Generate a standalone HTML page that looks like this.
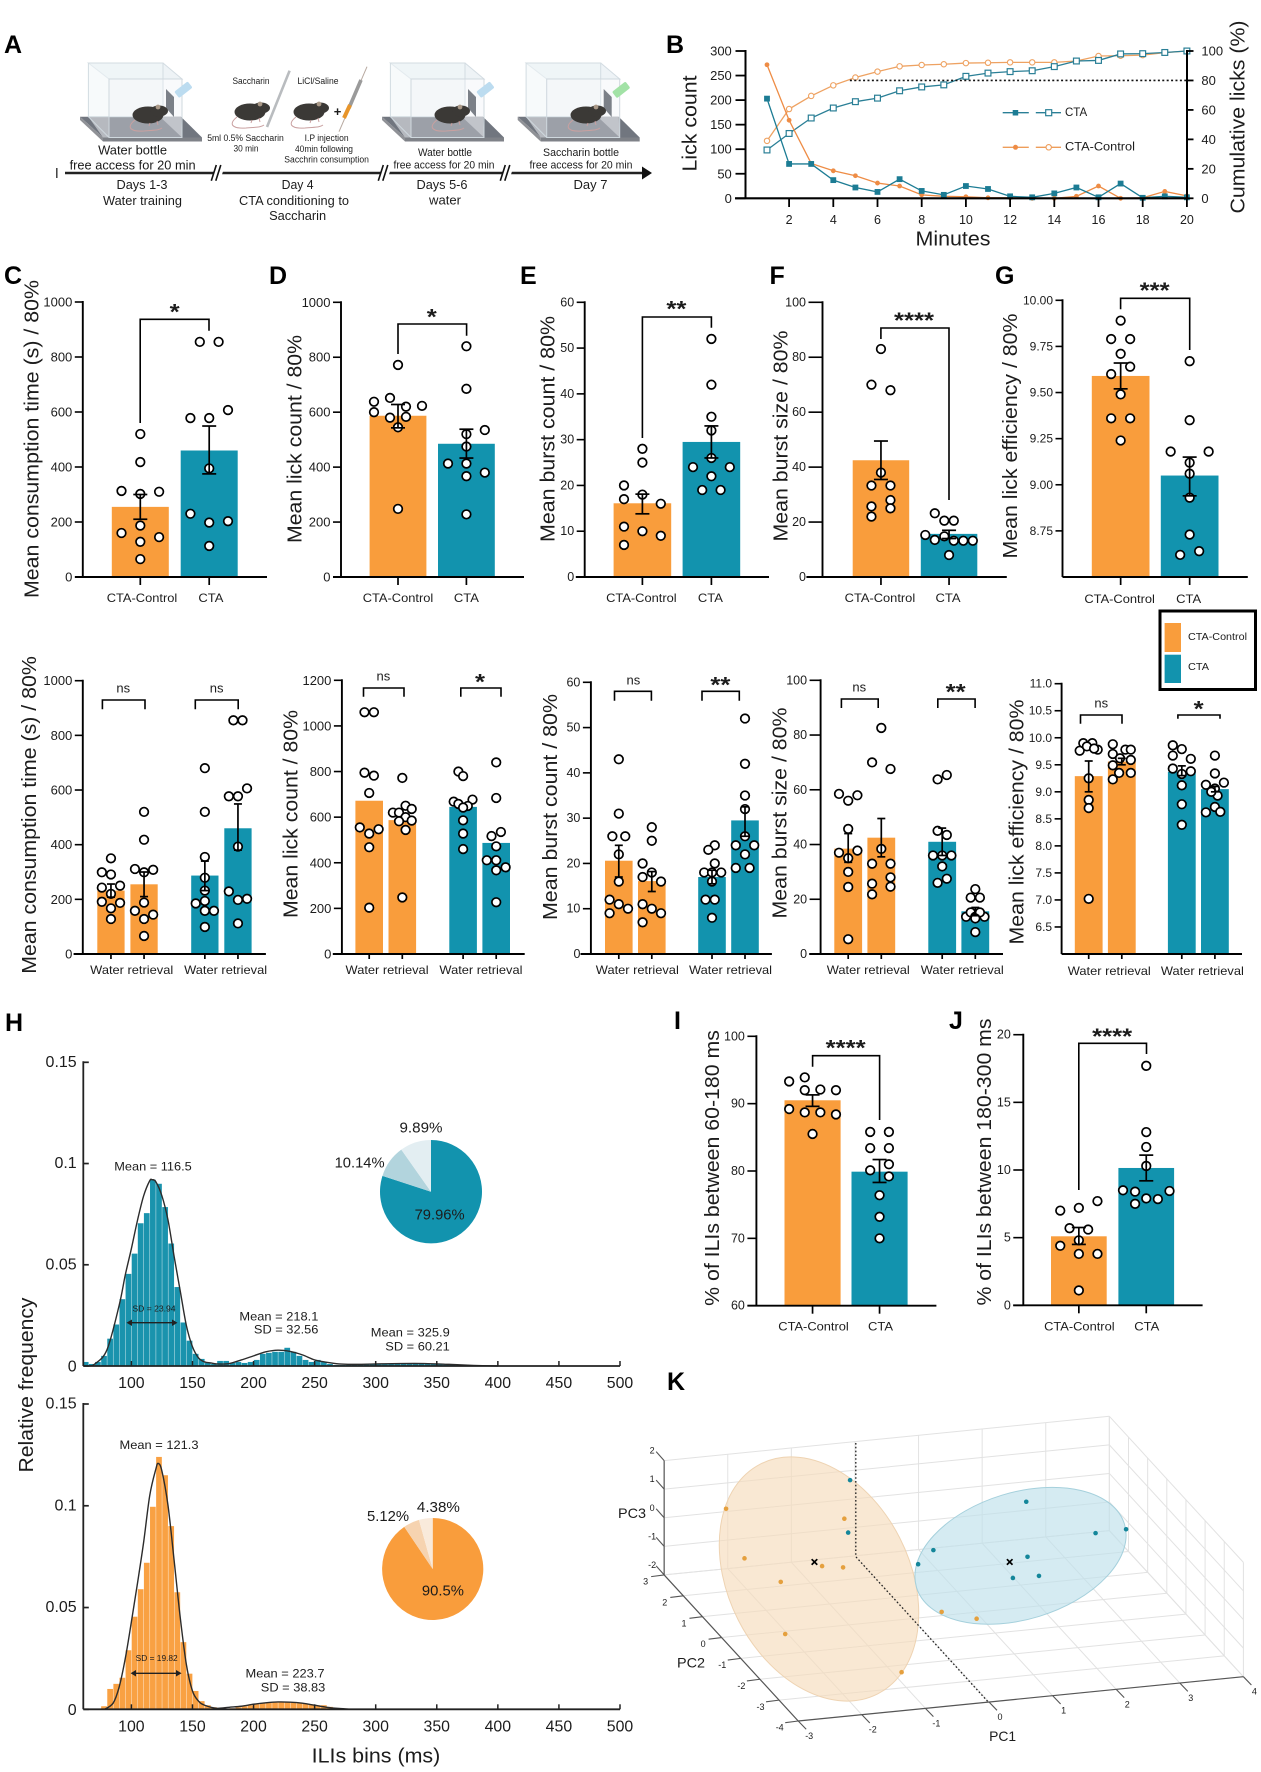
<!DOCTYPE html>
<html lang="en">
<head>
<meta charset="utf-8">
<title>CTA lick microstructure figure</title>
<style>
html,body{margin:0;padding:0;background:#fff;}
svg{display:block;}
text{font-family:"Liberation Sans",sans-serif;dominant-baseline:central;fill:#1c1c1c;}
.letter{font-size:25px;font-weight:bold;fill:#000;}
.ax{font-size:20.5px;text-anchor:middle;}
.s{text-anchor:middle;}
.e{text-anchor:end;}
</style>
</head>
<body>
<svg id="fig" xmlns="http://www.w3.org/2000/svg" width="1261" height="1772" viewBox="0 0 1261 1772">
<rect width="1261" height="1772" fill="#fff"/>
<defs>
<g id="mouse">
<path d="M-13 5C-22 12-18 17-4 16C4 15 10 16 14 13" fill="none" stroke="#c9a0a0" stroke-width="1"/>
<ellipse cx="0" cy="0" rx="15.5" ry="8.5" fill="#3b3936"/>
<ellipse cx="11" cy="-4" rx="9" ry="5.5" fill="#3b3936"/>
<circle cx="10" cy="-8" r="2.4" fill="#a98"/>
<path d="M2 8l-1 3M9 6l1 4" stroke="#c9a0a0" stroke-width="1"/>
</g>
<g id="cage">
<polygon points="80,116.7 181,116.7 202,137.5 103,137.5" fill="#71767f"/>
<polygon points="80,116.7 103,137.5 103,141.5 80,120" fill="#8f9196"/>
<polygon points="103,137.5 202,137.5 202,141.5 103,141.5" fill="#7f8288"/>
<polygon points="88.4,116.7 109,116.7 109,137.5 103,137.5" fill="#b6b9bf"/>
<polygon points="160,116.7 181,116.7 182,137.5" fill="#a9acb3"/>
<polygon points="88.4,63 163,63 182,79 109,79" fill="#eef3f6" stroke="#d3dce2" stroke-width="1"/>
<rect x="88.4" y="63" width="74.6" height="53.7" fill="#f1f5f8" fill-opacity=".55" stroke="#d3dce2" stroke-width="1"/>
<rect x="109" y="79" width="73" height="58.5" fill="#edf2f6" fill-opacity=".35" stroke="#cfd8de" stroke-width="1"/>
<line x1="88.4" y1="116.7" x2="109" y2="137.5" stroke="#cfd8de"/>
<polygon points="166,89 174,97 174,117 166,108" fill="#7b8088"/>
</g>
<g id="break">
<polygon points="211,180.7 216,165 225,165 220,180.7" fill="#fff"/>
<line x1="211.3" y1="180.7" x2="216.3" y2="165" stroke="#111" stroke-width="1.6"/>
<line x1="215.8" y1="180.7" x2="220.8" y2="165" stroke="#111" stroke-width="1.6"/>
</g>
</defs>

<!-- Panel letters -->
<text class="letter" x="4" y="45">A</text>
<text class="letter" x="666" y="45">B</text>
<text class="letter" x="4" y="276">C</text>
<text class="letter" x="269" y="276">D</text>
<text class="letter" x="520" y="276">E</text>
<text class="letter" x="769.5" y="276">F</text>
<text class="letter" x="995" y="276">G</text>
<text class="letter" x="5" y="1023">H</text>
<text class="letter" x="674" y="1021">I</text>
<text class="letter" x="949" y="1021">J</text>
<text class="letter" x="667" y="1382">K</text>

<!-- Panel A: experimental timeline -->
<g id="panel-a">
<use href="#cage"/>
<use href="#cage" x="302"/>
<use href="#cage" x="437.7"/>
<use href="#mouse" x="148" y="115"/>
<use href="#mouse" x="450" y="115"/>
<use href="#mouse" x="586" y="115"/>
<use href="#mouse" x="250" y="112"/>
<use href="#mouse" x="309" y="112"/>
<g><rect x="175" y="86" width="17" height="8" rx="1.5" fill="#bcdcf0" transform="rotate(-38 183 90)"/></g>
<g><rect x="477" y="86" width="17" height="8" rx="1.5" fill="#bcdcf0" transform="rotate(-38 485 90)"/></g>
<g><rect x="612.7" y="86" width="17" height="8" rx="1.5" fill="#a2e2a6" transform="rotate(-38 621 90)"/></g>
<line x1="289.6" y1="70.7" x2="267" y2="127" stroke="#b9bcbf" stroke-width="2.6"/>
<line x1="367" y1="66.7" x2="339" y2="131.7" stroke="#b7a9a0" stroke-width="1"/>
<line x1="361" y1="80" x2="349" y2="108" stroke="#9a9a9a" stroke-width="3.6"/>
<line x1="350" y1="105" x2="344" y2="118" stroke="#e8952a" stroke-width="4"/>
<text class="s" x="337.5" y="111.5" font-size="13" font-weight="bold">+</text>
<text class="s" x="251" y="81" font-size="9" textLength="37" lengthAdjust="spacingAndGlyphs">Saccharin</text>
<text class="s" x="318" y="81" font-size="9" textLength="41" lengthAdjust="spacingAndGlyphs">LiCl/Saline</text>
<text class="s" x="245.5" y="138" font-size="9" textLength="76.6" lengthAdjust="spacingAndGlyphs">5ml 0.5% Saccharin</text>
<text class="s" x="246" y="148.7" font-size="9" textLength="25" lengthAdjust="spacingAndGlyphs">30 min</text>
<text class="s" x="326.6" y="138" font-size="9" textLength="44" lengthAdjust="spacingAndGlyphs">I.P injection</text>
<text class="s" x="324" y="149" font-size="9" textLength="58" lengthAdjust="spacingAndGlyphs">40min following</text>
<text class="s" x="326.6" y="159.3" font-size="9" textLength="84.6" lengthAdjust="spacingAndGlyphs">Sacchrin consumption</text>
<text class="s" x="132.6" y="150" font-size="13" textLength="69" lengthAdjust="spacingAndGlyphs">Water bottle</text>
<text class="s" x="132.6" y="165" font-size="13" textLength="126" lengthAdjust="spacingAndGlyphs">free access for 20 min</text>
<text class="s" x="445" y="153" font-size="11" textLength="54" lengthAdjust="spacingAndGlyphs">Water bottle</text>
<text class="s" x="444" y="165.3" font-size="11" textLength="101" lengthAdjust="spacingAndGlyphs">free access for 20 min</text>
<text class="s" x="581" y="153" font-size="11" textLength="76" lengthAdjust="spacingAndGlyphs">Saccharin bottle</text>
<text class="s" x="581" y="165.3" font-size="11" textLength="103" lengthAdjust="spacingAndGlyphs">free access for 20 min</text>
<line x1="56.8" y1="168" x2="56.8" y2="178" stroke="#333" stroke-width="1.4"/>
<line x1="65" y1="173" x2="644" y2="173" stroke="#222" stroke-width="2.6"/>
<polygon points="642,166.5 652,173 642,179.5" fill="#111"/>
<use href="#break"/>
<use href="#break" x="167"/>
<use href="#break" x="289"/>
<text class="s" x="142" y="184.5" font-size="13" textLength="51" lengthAdjust="spacingAndGlyphs">Days 1-3</text>
<text class="s" x="142.5" y="200.5" font-size="13" textLength="79" lengthAdjust="spacingAndGlyphs">Water training</text>
<text class="s" x="297.6" y="184.5" font-size="13" textLength="32" lengthAdjust="spacingAndGlyphs">Day 4</text>
<text class="s" x="294" y="200.5" font-size="13" textLength="110" lengthAdjust="spacingAndGlyphs">CTA conditioning to</text>
<text class="s" x="297.6" y="215.7" font-size="13" textLength="57" lengthAdjust="spacingAndGlyphs">Saccharin</text>
<text class="s" x="442" y="184.5" font-size="13" textLength="51" lengthAdjust="spacingAndGlyphs">Days 5-6</text>
<text class="s" x="445" y="200" font-size="13" textLength="32" lengthAdjust="spacingAndGlyphs">water</text>
<text class="s" x="590.5" y="184.5" font-size="13" textLength="34" lengthAdjust="spacingAndGlyphs">Day 7</text>
</g>

<!-- Panel B static text and legend -->
<g>
<g id="panel-b"></g>
<text class="ax" x="690" y="123.5" transform="rotate(-90 690 123.5)" font-size="21" textLength="96" lengthAdjust="spacingAndGlyphs">Lick count</text>
<text class="ax" x="1238" y="117" transform="rotate(-90 1238 117)" font-size="21" textLength="193" lengthAdjust="spacingAndGlyphs">Cumulative licks (%)</text>
<text class="ax" x="953" y="239" font-size="20" textLength="75" lengthAdjust="spacingAndGlyphs">Minutes</text>
<g>
<line x1="1002.7" y1="112.7" x2="1028.8" y2="112.7" stroke="#2a7f96" stroke-width="1.4"/>
<rect x="1012.7" y="110" width="5.5" height="5.5" fill="#1c7c94"/>
<line x1="1035.8" y1="112.7" x2="1061" y2="112.7" stroke="#2a7f96" stroke-width="1.4"/>
<rect x="1045.7" y="109.7" width="6" height="6" fill="#fff" stroke="#2a7f96" stroke-width="1.2"/>
<text x="1065" y="113" font-size="11.5">CTA</text>
</g>
<g>
<line x1="1002.7" y1="147.3" x2="1028.8" y2="147.3" stroke="#ee9d5a" stroke-width="1.4"/>
<circle cx="1015.5" cy="147.3" r="2.5" fill="#ee8c45"/>
<line x1="1035.8" y1="147.3" x2="1061" y2="147.3" stroke="#ee9d5a" stroke-width="1.4"/>
<circle cx="1048.7" cy="147.3" r="2.7" fill="#fff" stroke="#ee9d5a" stroke-width="1.1"/>
<text x="1065" y="147.5" font-size="11.5" textLength="70" lengthAdjust="spacingAndGlyphs">CTA-Control</text>
</g>
</g>

<!-- Bar panels: containers and titles -->
<g id="bars"></g>
<text class="ax" x="32" y="439" transform="rotate(-90 32 439)" textLength="318" lengthAdjust="spacingAndGlyphs">Mean consumption time (s) / 80%</text>
<text class="ax" x="295" y="439" transform="rotate(-90 295 439)" textLength="208" lengthAdjust="spacingAndGlyphs">Mean lick count / 80%</text>
<text class="ax" x="548" y="429" transform="rotate(-90 548 429)" textLength="226" lengthAdjust="spacingAndGlyphs">Mean burst count / 80%</text>
<text class="ax" x="781" y="436" transform="rotate(-90 781 436)" textLength="211" lengthAdjust="spacingAndGlyphs">Mean burst size / 80%</text>
<text class="ax" x="1010.5" y="436" transform="rotate(-90 1010.5 436)" textLength="245" lengthAdjust="spacingAndGlyphs">Mean lick efficiency / 80%</text>
<text class="ax" x="29.7" y="815" transform="rotate(-90 29.7 815)" textLength="317.6" lengthAdjust="spacingAndGlyphs">Mean consumption time (s) / 80%</text>
<text class="ax" x="291" y="814" transform="rotate(-90 291 814)" textLength="208" lengthAdjust="spacingAndGlyphs">Mean lick count / 80%</text>
<text class="ax" x="550.7" y="807" transform="rotate(-90 550.7 807)" textLength="226" lengthAdjust="spacingAndGlyphs">Mean burst count / 80%</text>
<text class="ax" x="780" y="813" transform="rotate(-90 780 813)" textLength="211" lengthAdjust="spacingAndGlyphs">Mean burst size / 80%</text>
<text class="ax" x="1017" y="822" transform="rotate(-90 1017 822)" textLength="245" lengthAdjust="spacingAndGlyphs">Mean lick efficiency / 80%</text>
<text class="ax" x="712.4" y="1168" transform="rotate(-90 712.4 1168)" textLength="275.7" lengthAdjust="spacingAndGlyphs">% of ILIs between 60-180 ms</text>
<text class="ax" x="984.4" y="1162" transform="rotate(-90 984.4 1162)" textLength="287" lengthAdjust="spacingAndGlyphs">% of ILIs between 180-300 ms</text>

<!-- Group legend -->
<g>
<rect x="1160" y="611" width="95.5" height="78.5" fill="#fff" stroke="#000" stroke-width="3"/>
<rect x="1164.6" y="623" width="16.4" height="29" fill="#f99d3c"/>
<rect x="1164.6" y="654.7" width="16.4" height="28.3" fill="#1293ae"/>
<text x="1188" y="637" font-size="10.5" textLength="59" lengthAdjust="spacingAndGlyphs">CTA-Control</text>
<text x="1188" y="667" font-size="10.5" textLength="21" lengthAdjust="spacingAndGlyphs">CTA</text>
</g>

<!-- Panel H -->
<g id="panel-h"></g>
<text class="ax" x="26.5" y="1385" transform="rotate(-90 26.5 1385)" font-size="21" textLength="175" lengthAdjust="spacingAndGlyphs">Relative frequency</text>
<text class="ax" x="376" y="1756" font-size="21" textLength="128.6" lengthAdjust="spacingAndGlyphs">ILIs bins (ms)</text>
<g font-size="12">
<text class="s" x="153" y="1166.7" textLength="77.5" lengthAdjust="spacingAndGlyphs">Mean = 116.5</text>
<text class="s" x="154" y="1309" font-size="8" fill="#334" textLength="43" lengthAdjust="spacingAndGlyphs">SD = 23.94</text>
<text class="e" x="318.4" y="1316.7" textLength="79" lengthAdjust="spacingAndGlyphs">Mean = 218.1</text>
<text class="e" x="318.4" y="1329.3" textLength="64.5" lengthAdjust="spacingAndGlyphs">SD = 32.56</text>
<text class="e" x="449.8" y="1332.3" textLength="79" lengthAdjust="spacingAndGlyphs">Mean = 325.9</text>
<text class="e" x="449.8" y="1346.7" textLength="64.5" lengthAdjust="spacingAndGlyphs">SD = 60.21</text>
<text class="s" x="159" y="1445" textLength="79" lengthAdjust="spacingAndGlyphs">Mean = 121.3</text>
<text class="s" x="156.7" y="1658.7" font-size="8" fill="#432" textLength="42" lengthAdjust="spacingAndGlyphs">SD = 19.82</text>
<text class="e" x="324.5" y="1673.3" textLength="79" lengthAdjust="spacingAndGlyphs">Mean = 223.7</text>
<text class="e" x="325.3" y="1687.7" textLength="64.5" lengthAdjust="spacingAndGlyphs">SD = 38.83</text>
</g>
<g stroke="#222" stroke-width="1.4" fill="#222">
<line x1="128" y1="1322.7" x2="176" y2="1322.7"/><polygon stroke="none" points="126.5,1322.7 132,1319.5 132,1326"/><polygon stroke="none" points="177.5,1322.7 172,1319.5 172,1326"/>
</g>
<g stroke="#222" stroke-width="1.4" fill="#222">
<line x1="132" y1="1673.3" x2="180" y2="1673.3"/><polygon stroke="none" points="130.6,1673.3 136,1670 136,1676.5"/><polygon stroke="none" points="181.6,1673.3 176,1670 176,1676.5"/>
</g>
<g font-size="15">
<text class="s" x="421" y="1128" textLength="43" lengthAdjust="spacingAndGlyphs">9.89%</text>
<text class="s" x="359.6" y="1163" textLength="50" lengthAdjust="spacingAndGlyphs">10.14%</text>
<text class="s" x="439.6" y="1215" textLength="50" lengthAdjust="spacingAndGlyphs">79.96%</text>
</g>
<g id="pie-labels-control" font-size="15">
<text class="s" x="438.4" y="1507.7" textLength="43" lengthAdjust="spacingAndGlyphs">4.38%</text>
<text class="s" x="388" y="1516.3" textLength="42" lengthAdjust="spacingAndGlyphs">5.12%</text>
<text class="s" x="442.9" y="1591" textLength="42" lengthAdjust="spacingAndGlyphs">90.5%</text>
</g>

<!-- Panel K -->
<g>
<g id="k-grid"></g>
<ellipse cx="819" cy="1579" rx="129" ry="90.6" transform="rotate(63 819 1579)" fill="#f6dcbc" fill-opacity=".65" stroke="#eed3b2"/>
<ellipse cx="1020.5" cy="1555.8" rx="108.7" ry="63.4" transform="rotate(-17 1020.5 1555.8)" fill="#bfe1eb" fill-opacity=".65" stroke="#a5d0dc"/>
<polyline points="855.8,1443 855.8,1556.7 988.2,1702" fill="none" stroke="#222" stroke-width="1.3" stroke-dasharray="1.6 2.2"/>
<g id="k-marks"></g>
<text class="s" x="1002.6" y="1736" font-size="14" textLength="27" lengthAdjust="spacingAndGlyphs">PC1</text>
<text class="s" x="691" y="1662.7" font-size="14" textLength="28" lengthAdjust="spacingAndGlyphs">PC2</text>
<text x="618" y="1513" font-size="14" textLength="28" lengthAdjust="spacingAndGlyphs">PC3</text>
</g>
</svg>

<script>
/* ---------- Panel B data ---------- */
const bMinutes=[1,2,3,4,5,6,7,8,9,10,11,12,13,14,15,16,17,18,19,20];
const bCtaLicks=[203,70,70,37,22,13,39,15,7,25,19,4,2,10,22,2,30,1,4,2];
const bControlLicks=[272,159,71,56,46,31,25,7,4,3,1,1,0,0,4,25,0,1,14,5];
const bCtaCumulative=[32.8,44,54.5,61.3,65.6,68,73,75.6,77,82.8,85,86,86.6,89.4,93.2,93.6,98,98.2,99,100];
const bControlCumulative=[39,60.6,69.5,76.7,82,86,89.6,90.5,91,91.8,92,92.3,92.3,92.3,93.2,96.6,96.8,97.2,98.9,100];
const bLeftTicks=[0,50,100,150,200,250,300];
const bRightTicks=[0,20,40,60,80,100];
const bMinuteTicks=[2,4,6,8,10,12,14,16,18,20];
const bThreshold=[80];

/* ---------- Panel C ---------- */
const cTicks=[0,200,400,600,800,1000];
const cCategories=['CTA-Control','CTA'];
const cMeans=[255,460];
const cErrLow=[210,375];
const cErrHigh=[300,549];
const cControl=[520,418,313,310,302,187,160,145,128,65];
const cControlJitter=[0,0,-2,2,0,0,-2,2,0,0];
const cCta=[855,855,607,578,578,395,230,203,198,113];
const cCtaJitter=[-1,1,2,-2,0,0,-2,2,0,0];
/* ---------- Panel D ---------- */
const dTicks=[0,200,400,600,800,1000];
const dCategories=['CTA-Control','CTA'];
const dMeans=[587,485];
const dErrLow=[543,433];
const dErrHigh=[628,538];
const dControl=[772,652,638,623,620,600,583,580,545,248];
const dControlJitter=[0,-1,-3,3,1,-3,1,-1,0,0];
const dCta=[840,685,535,520,475,413,413,380,367,228];
const dCtaJitter=[0,0,2.3,0,0,-2.3,0,2.3,0,0];
/* ---------- Panel E ---------- */
const eTicks=[0,10,20,30,40,50,60];
const eCategories=['CTA-Control','CTA'];
const eMeans=[16.1,29.5];
const eErrLow=[13.8,26];
const eErrHigh=[18.1,33];
const eControl=[28,25,20,18,17,16,11,10,9,7];
const eControlJitter=[0,0,-2,0,-2,2,-2,0,2,-2];
const eCta=[52,42,35,32,26,24,24,22,19,19];
const eCtaJitter=[0,0,0,0,0,-2,2,0,-1,1];
/* ---------- Panel F ---------- */
const fTicks=[0,20,40,60,80,100];
const fCategories=['CTA-Control','CTA'];
const fMeans=[42.5,15.7];
const fErrLow=[35.5,14];
const fErrHigh=[49.5,17];
const fControl=[83,70,68,38,33.3,33.3,28,25.7,25,22];
const fControlJitter=[0,-1,1,0,-1,1,1,-1,1,-1];
const fCta=[23.2,20.5,20.5,15.3,13.5,14.8,13.2,13.2,13.2,8];
const fCtaJitter=[-1.5,-.5,.5,-2.5,-1.5,-.5,.5,1.5,2.5,0];
/* ---------- Panel G ---------- */
const gTicks=[8.75,9,9.25,9.5,9.75,10];
const gTickLabels=['8.75','9.00','9.25','9.50','9.75','10.00'];
const gCategories=['CTA-Control','CTA'];
const gMeans=[9.59,9.05];
const gErrLow=[9.52,8.94];
const gErrHigh=[9.66,9.15];
const gControl=[9.89,9.79,9.79,9.71,9.64,9.6,9.49,9.36,9.36,9.24];
const gControlJitter=[0,-1,1,0,1,-1,0,-1,1,0];
const gCta=[9.67,9.35,9.18,9.18,9.12,9.06,8.93,8.73,8.62,8.64];
const gCtaJitter=[0,0,-2,2,0,0,0,0,-1,1];

/* ---------- Water retrieval panels ---------- */
const retrievalCategories=['Water retrieval','Water retrieval'];
const c2Ticks=[0,200,400,600,800,1000];
const c2Means=[232,255,287,460];
const c2ErrLow=[208,210,232,380];
const c2ErrHigh=[256,300,340,549];
const c2Water1=[350,299,291,243,250,220,191,187,167,128];
const c2Water1Jitter=[0,-1,0,-1,1,0,-1,1,0,0];
const c2Water2=[520,418,311,308,299,188,158,144,128,66];
const c2Water2Jitter=[0,0,-1,1,0,0,-1,1,0,0];
const c2Water3=[680,520,355,279,232,185,194,158,158,99];
const c2Water3Jitter=[0,0,0,0,0,-1,0,0,1,0];
const c2Water4=[855,855,606,577,577,393,229,202,198,112];
const c2Water4Jitter=[-.5,.5,1,-1,0,0,-1,1,0,0];

const d2Ticks=[0,200,400,600,800,1000,1200];
const d2Means=[672,587,645,487];
const d2Water1=[1060,1060,795,782,706,555,547,528,468,203];
const d2Water1Jitter=[-1,1,-1,1,0,-2,2,0,0,0];
const d2Water2=[772,650,636,620,620,600,582,585,544,248];
const d2Water2Jitter=[0,.7,2,-2,-.7,.7,-.7,2,.7,0];
const d2Water3=[800,780,677,668,658,649,642,586,528,460];
const d2Water3Jitter=[-1,0,2,-2,-1,1,0,0,0,0];
const d2Water4=[840,684,535,517,472,411,411,380,367,227];
const d2Water4Jitter=[0,0,1,-1,0,-2,0,2,0,0];

const e2Ticks=[0,10,20,30,40,50,60];
const e2Means=[20.6,16.1,17,29.5];
const e2ErrLow=[17,13.8,15.5,26];
const e2ErrHigh=[24,18.2,18.5,32.5];
const e2Water1=[43,31,26,26,22,16,12,9,11,10];
const e2Water1Jitter=[0,0,-.7,.7,0,0,-1,-1,0,1];
const e2Water2=[28,25,20,18,17,16,11,10,9,7];
const e2Water2Jitter=[0,0,-1,0,-1,1,-1,0,1,-1];
const e2Water3=[24,23,20,18,18,18,16,12,12,8];
const e2Water3Jitter=[.3,-.4,.3,-.85,0,1,0,-.7,.3,0];
const e2Water4=[52,42,35,32,26,24,24,22,19,19];
const e2Water4Jitter=[0,0,0,0,0,-1,1,0,-1,.5];

const f2Ticks=[0,20,40,60,80,100];
const f2Means=[38.5,42.5,41,15.6];
const f2ErrLow=[33.5,35.5,36,14];
const f2ErrHigh=[44,49.5,46,17];
const f2Water1=[58.5,58,56,45.7,37,37.8,35,30,24.5,5.4];
const f2Water1Jitter=[-1,1,0,0,-1,1,0,0,0,0];
const f2Water2=[82.6,70,67.6,38.4,33,33,28,25.7,24.6,21.8];
const f2Water2Jitter=[0,-1,1,0,-1,1,1,-1,1,-1];
const f2Water3=[63.8,65.4,45,43.5,36,36,36,32,26,27.5];
const f2Water3Jitter=[-.5,.5,-.5,.5,-1,0,1,0,-.5,.5];
const f2Water4=[23.7,20.6,20.6,13.6,15.2,13.6,13.6,15.2,13,8];
const f2Water4Jitter=[0,-.5,.5,-1,-.5,0,1,.5,0,0];

const g2Ticks=[6.5,7,7.5,8,8.5,9,9.5,10,10.5,11];
const g2TickLabels=['6.5','7.0','7.5','8.0','8.5','9.0','9.5','10.0','10.5','11.0'];
const g2Means=[9.29,9.56,9.37,9.05];
const g2ErrLow=[9,9.5,9.3,9];
const g2ErrHigh=[9.57,9.62,9.48,9.1];
const g2Water1=[9.76,9.9,9.9,9.78,9.84,9.8,9.25,8.85,8.7,7.02];
const g2Water1Jitter=[-1,-.6,.4,1,-.2,.6,0,0,0,0];
const g2Water2=[9.88,9.7,9.78,9.78,9.62,9.59,9.49,9.35,9.35,9.23];
const g2Water2Jitter=[-1,-1,.4,1,-.2,1,-1,1,-.3,-1];
const g2Water3=[9.86,9.79,9.67,9.61,9.43,9.38,9.33,9.12,8.77,8.39];
const g2Water3Jitter=[-1,0,-1,1,-1,1,0,0,0,0];
const g2Water4=[9.67,9.34,9.17,9.13,9.06,8.93,8.72,8.62,8.63,9];
const g2Water4Jitter=[0,0,1,-1,0,.3,0,-1,.6,-.4];

/* ---------- Panels I and J ---------- */
const iTicks=[60,70,80,90,100];
const iCategories=['CTA-Control','CTA'];
const iMeans=[90.5,79.9];
const iErrLow=[89.6,78.3];
const iErrHigh=[91.3,81.7];
const iControl=[93.9,93.3,92,92.1,92,89.2,88.7,88.7,88.4,85.5];
const iControlJitter=[-1,-3,-1,1,3,-3,-1,1,3,0];
const iCta=[85.8,85.8,83.4,83.4,81,80.1,79.2,76.4,73.2,70];
const iCtaJitter=[-1.2,1.2,-1.2,1.2,1.2,-1.2,1.2,0,0,0];

const jTicks=[0,5,10,15,20];
const jCategories=['CTA-Control','CTA'];
const jMeans=[5.1,10.15];
const jErrLow=[4.5,9.2];
const jErrHigh=[5.75,11.1];
const jControl=[7.7,7.2,7,5.7,5.6,4.8,4.4,3.8,3.8,1.1];
const jControlJitter=[2,0,-2,-1,1,0,-2,0,2,0];
const jCta=[17.7,12.8,11.7,10.3,8.5,8.4,8.45,7.9,7.85,7.5];
const jCtaJitter=[0,0,0,0,-2.5,-1.2,2.5,0,1.25,-1.2];

/* ---------- Panel H ---------- */
const hXTicks=[100,150,200,250,300,350,400,450,500];
const hYTicks=[0,0.05,0.1,0.15];
const hYTickLabels=['0','0.05','0.1','0.15'];
const hBinStart=[60];
const hBinWidth=[5];
const hCtaBins=[.002,.001,.002,.005,.0135,.0205,.033,.0455,.0555,.0705,.0755,.092,.09,.0785,.0605,.039,.0215,.0125,.006,.0035,.0015,.001,.0025,.0025,.0015,.002,.0015,.002,.003,.006,.0065,.007,.007,.009,.007,.005,.003,.002,.003,.002,.001,.0005,.0005,.0005,.0005,.0008,.001,.001,.001,.001,.001,.001,.0012,.0012,.0012,.001,.001,.001,.001,.0007,.0005,.0004,.0003,.0003,.0002];
const hControlBins=[0,0,0,.0015,.01,.0125,.0155,.029,.0455,.059,.072,.0995,.124,.115,.09,.0575,.033,.0175,.009,.004,.002,.001,.0003,.0003,.0005,.001,.0015,.002,.0025,.003,.0032,.0033,.0035,.0035,.0032,.003,.0028,.0022,.002,.002,.0012,.0005,.0003];
const hCtaCurveX=[65,70,80,90,95,100,105,110,115,117,120,125,130,135,140,145,150,155,160,165,170,180,190,200,210,220,230,240,250,260,270,280,300,320,340,360,380,400];
const hCtaCurveY=[0,.001,.008,.03,.045,.058,.072,.084,.0915,.092,.091,.084,.072,.054,.037,.02,.0095,.004,.002,.0015,.001,.0012,.003,.005,.007,.0078,.0072,.0055,.003,.0018,.001,.0008,.001,.0012,.0012,.0008,.0003,0];
const hControlCurveX=[78,85,90,95,100,105,110,115,120,122,125,130,135,140,145,150,155,160,170,180,190,200,210,220,230,240,250,260,270,280];
const hControlCurveY=[0,.003,.011,.025,.043,.062,.082,.105,.118,.1208,.117,.1,.073,.045,.022,.009,.004,.002,.0005,.001,.0015,.0025,.0032,.0036,.0035,.003,.002,.001,.0004,0];
const hCtaPie=[79.96,10.14,9.89];
const hControlPie=[90.5,5.12,4.38];

/* ---------- Panel K ---------- */
const kTicksPC1=[-3,-2,-1,0,1,2,3,4];
const kTicksPC2=[-4,-3,-2,-1,0,1,2,3];
const kTicksPC3=[-2,-1,0,1,2];
const kControlPC1=[-2.93,-2.64,-2.07,-2,-1.42,-1.09,-1.07,-.17,.46,1.01];
const kControlPC3=[2.49,.69,-.26,-2.1,.15,.03,1.73,-3.84,-1.87,-2.23];
const kCtaPC1=[-.98,-1.01,.33,.09,1.79,2.88,3.36,1.81,1.58,1.99];
const kCtaPC3=[3.06,1.23,.32,-.12,1.69,.35,.38,-.24,-.93,-.95];
const kMeansPC1=[-1.54,1.53];
const kMeansPC3=[.32,-.36];

/* ---------- helpers ---------- */
const NS='http://www.w3.org/2000/svg';
const ORANGE='#f99d3c', TEAL='#1293ae';
function mk(parent,tag,attrs,content){
  const n=document.createElementNS(NS,tag);
  for(const k in attrs) n.setAttribute(k,attrs[k]);
  if(content!==undefined) n.textContent=content;
  parent.appendChild(n);
  return n;
}
function seg(parent,x1,y1,x2,y2,w,color,name){
  const l=mk(parent,'line',{x1:x1,y1:y1,x2:x2,y2:y2,stroke:color||'#000','stroke-width':w||1.7});
  
  
  return l;
}
function label(parent,x,y,str,size,anchor,name,len,extra){
  const a={x:x,y:y,'font-size':size,'text-anchor':anchor||'middle'};
  if(len){a.textLength=len;a.lengthAdjust='spacingAndGlyphs';}
  if(extra) Object.assign(a,extra);
  const t=mk(parent,'text',a,str);
  
  
  return t;
}
function smoothPath(pts){
  let d='M'+pts[0][0]+' '+pts[0][1];
  for(let i=0;i<pts.length-1;i++){
    const p0=pts[Math.max(i-1,0)],p1=pts[i],p2=pts[i+1],p3=pts[Math.min(i+2,pts.length-1)];
    d+=' C'+(p1[0]+(p2[0]-p0[0])/6)+' '+(p1[1]+(p2[1]-p0[1])/6)+' '+(p2[0]-(p3[0]-p1[0])/6)+' '+(p2[1]-(p3[1]-p1[1])/6)+' '+p2[0]+' '+p2[1];
  }
  return d;
}

/* ---------- Panel B ---------- */
(function(){
  const g=document.getElementById('panel-b');
  const xB=m=>789.1+(m-2)*22.1;
  const yL=v=>198.3-v/300*147.3;
  const yR=v=>198.3-v/100*147.3;
  function series(vals,scale,color,kind,open,name){
    const pts=bMinutes.map((m,i)=>xB(m)+','+scale(vals[i])).join(' ');
    const line=mk(g,'polyline',{points:pts,fill:'none',stroke:color,'stroke-width':1.3});
    
    
    bMinutes.forEach((m,i)=>{
      const cx=xB(m),cy=scale(vals[i]);
      const p=kind==='square'
        ? mk(g,'rect',{x:cx-2.9,y:cy-2.9,width:5.8,height:5.8,fill:open?'#fff':color,stroke:color,'stroke-width':open?1.2:0})
        : mk(g,'circle',{cx:cx,cy:cy,r:open?2.7:2.4,fill:open?'#fff':color,stroke:color,'stroke-width':open?1.1:0});
      
      
    });
  }
  series(bControlCumulative,yR,'#eea262','circle',true,'control-cumulative');
  series(bCtaCumulative,yR,'#2a7f96','square',true,'cta-cumulative');
  series(bControlLicks,yL,'#ee8c45','circle',false,'control-licks');
  series(bCtaLicks,yL,'#1c7c94','square',false,'cta-licks');
  const th=seg(g,xB(4.75),yR(bThreshold[0]),1187,yR(bThreshold[0]),1.6,'#111','threshold-80-percent');
  th.setAttribute('stroke-dasharray','2 2.4');
  seg(g,735,198.3,1187,198.3,2.2,'#000','x-axis');
  seg(g,745.5,50,745.5,198.3,2,'#000','left-y-axis');
  seg(g,1187,50,1187,198.3,2,'#000','right-y-axis');
  bLeftTicks.forEach(v=>{
    seg(g,735.5,yL(v),745.5,yL(v),1.8,'#000','left-y-tick');
    label(g,731.8,yL(v),String(v),13,'end','left-y-tick-label');
  });
  bRightTicks.forEach(v=>{
    seg(g,1187,yR(v),1193.5,yR(v),1.8,'#000','right-y-tick');
    label(g,1201.4,yR(v),String(v),13,'start','right-y-tick-label');
  });
  bMinuteTicks.forEach(v=>{
    seg(g,xB(v),198.3,xB(v),207,1.8,'#000','x-tick');
    label(g,xB(v),220,String(v),12.5,'middle','x-tick-label');
  });
})();

/* ---------- Bar panels ---------- */
function drawBars(c){
  const root=document.getElementById('bars');
  const g=mk(root,'g',{});
  
  
  const y=v=>c.y0-(v-c.min)/(c.max-c.min)*(c.y0-c.yTop);
  const left=i=>c.pair ? c.x0+(i%2)*c.pair+Math.floor(i/2)*c.group : c.x0+i*c.step;
  const center=i=>left(i)+c.w/2;
  c.means.forEach((m,i)=>{
    const b=mk(g,'rect',{x:left(i),y:y(m),width:c.w,height:c.y0-y(m),fill:c.colors[i]});
    
    
  });
  seg(g,c.axStart,c.y0,c.axEnd,c.y0,1.9,'#000','x-axis');
  seg(g,c.axX,c.yTop-1,c.axX,c.y0,1.9,'#000','y-axis');
  c.ticks.forEach((v,i)=>{
    seg(g,c.axX-(c.tickLen||8),y(v),c.axX,y(v),1.6,'#000','y-tick');
    label(g,c.axX-(c.tickLen||8)-2.5,y(v),c.tickLabels?c.tickLabels[i]:String(v),c.tickFont||13,'end','y-tick-label');
  });
  c.means.forEach((m,i)=>{
    seg(g,center(i),c.y0,center(i),c.y0+(c.xTick||8),1.7,'#000','x-tick');
  });
  c.values.forEach((vals,s)=>{
    vals.forEach((v,k)=>{
      const d=mk(g,'circle',{cx:center(s)+c.jitters[s][k]*c.jit,cy:y(v),r:4.3,fill:'#fff',stroke:'#000','stroke-width':1.7});
      
      
    });
  });
  if(c.lo){
    c.means.forEach((m,i)=>{
      const cx=center(i);
      seg(g,cx,y(c.lo[i]),cx,y(c.hi[i]),1.7,'#000','error-bar');
      seg(g,cx-c.cap,y(c.lo[i]),cx+c.cap,y(c.lo[i]),1.7,'#000','error-cap');
      seg(g,cx-c.cap,y(c.hi[i]),cx+c.cap,y(c.hi[i]),1.7,'#000','error-cap');
    });
  }
  c.cats.forEach((t,i)=>{
    const cx=c.pair ? (center(i*2)+center(i*2+1))/2+c.catShift : center(i)+c.catShift;
    const len=t==='CTA'?25:(t==='CTA-Control'?70.5:83);
    label(g,cx,c.catY,t,12,'middle','category-label',len);
  });
  c.brackets.forEach(b=>{
    const p=mk(g,'path',{d:'M'+b[0]+' '+b[2]+'V'+b[3]+'H'+b[1]+'V'+b[4],fill:'none',stroke:'#000','stroke-width':1.6});
    
    
    const isNs=b[5]==='ns';
    if(isNs){
      label(g,b[6],b[7],b[5],13,'middle','significance-label');
    }else{
      label(g,b[6],b[7]+5,b[5],22,'middle','significance-label',b[5].length*10,{'font-weight':'bold',fill:'#000'});
    }
  });
}
drawBars({name:'consumption-time-chart',x0:111.8,w:57,step:68.9,axX:82.8,axStart:75,axEnd:267,y0:577,yTop:302,min:0,max:1000,ticks:cTicks,means:cMeans,lo:cErrLow,hi:cErrHigh,colors:[ORANGE,TEAL],values:[cControl,cCta],jitters:[cControlJitter,cCtaJitter],jit:9.4,cap:7,cats:cCategories,catShift:1.7,catY:598,brackets:[[140.2,209,423,319.3,330.7,'*',174.7,307]]});
drawBars({name:'lick-count-chart',x0:369.6,w:56.8,step:68.4,axX:341,axStart:333,axEnd:524,y0:577,yTop:302.3,min:0,max:1000,ticks:dTicks,means:dMeans,lo:dErrLow,hi:dErrHigh,colors:[ORANGE,TEAL],values:[dControl,dCta],jitters:[dControlJitter,dCtaJitter],jit:8,cap:7,cats:dCategories,catShift:0,catY:598,brackets:[[398,466.6,354,324,335.7,'*',431.8,312]]});
drawBars({name:'burst-count-chart',x0:613.6,w:57.6,step:69,axX:584.7,axStart:575.8,axEnd:769,y0:577,yTop:302.3,min:0,max:60,ticks:eTicks,means:eMeans,lo:eErrLow,hi:eErrHigh,colors:[ORANGE,TEAL],values:[eControl,eCta],jitters:[eControlJitter,eCtaJitter],jit:9.2,cap:7,cats:eCategories,catShift:-1,catY:598,tickFont:12.5,brackets:[[642.4,711.4,438,317,327.7,'**',676.4,304]]});
drawBars({name:'burst-size-chart',x0:852.7,w:56.5,step:68.1,axX:822.5,axStart:806.4,axEnd:1006.8,y0:577,yTop:302.3,min:0,max:100,ticks:fTicks,means:fMeans,lo:fErrLow,hi:fErrHigh,colors:[ORANGE,TEAL],values:[fControl,fCta],jitters:[fControlJitter,fCtaJitter],jit:9.5,cap:7,cats:fCategories,catShift:-1,catY:598,tickLen:14,tickFont:12.5,brackets:[[880.9,949,339,328,500,'****',914,315.7]]});
drawBars({name:'lick-efficiency-chart',x0:1091.8,w:57.7,step:69,axX:1062.5,axStart:1062.5,axEnd:1247.8,y0:577,yTop:300.3,min:8.5,max:10,ticks:gTicks,tickLabels:gTickLabels,means:gMeans,lo:gErrLow,hi:gErrHigh,colors:[ORANGE,TEAL],values:[gControl,gCta],jitters:[gControlJitter,gCtaJitter],jit:9.5,cap:7,cats:gCategories,catShift:-1,catY:599,tickLen:7,tickFont:12,brackets:[[1120.6,1189.7,309.3,298.3,350,'***',1154.7,285.7]]});

const W4=[ORANGE,ORANGE,TEAL,TEAL];
drawBars({name:'retrieval-consumption-time-chart',x0:97.3,w:27.3,pair:33.1,group:93.9,axX:82.8,axStart:73.6,axEnd:265.9,y0:954,yTop:680.7,min:0,max:1000,ticks:c2Ticks,means:c2Means,lo:c2ErrLow,hi:c2ErrHigh,colors:W4,values:[c2Water1,c2Water2,c2Water3,c2Water4],jitters:[c2Water1Jitter,c2Water2Jitter,c2Water3Jitter,c2Water4Jitter],jit:9.1,cap:4,cats:retrievalCategories,catShift:4.2,catY:970,xTick:5,brackets:[[102.4,145,709.3,700,709.3,'ns',123.3,688],[195.3,238.2,709.3,700,709.3,'ns',216.6,688]]});
drawBars({name:'retrieval-lick-count-chart',x0:355.4,w:27.6,pair:33.1,group:93.9,axX:341.9,axStart:332.8,axEnd:524.7,y0:954,yTop:680.3,min:0,max:1200,ticks:d2Ticks,means:d2Means,colors:W4,values:[d2Water1,d2Water2,d2Water3,d2Water4],jitters:[d2Water1Jitter,d2Water2Jitter,d2Water3Jitter,d2Water4Jitter],jit:4.7,cap:4,cats:retrievalCategories,catShift:1.3,catY:970,xTick:5,brackets:[[363.5,404,696.7,688,696.7,'ns',383.4,676],[460.8,501,696.7,688,696.7,'*',480,677]]});
drawBars({name:'retrieval-burst-count-chart',x0:605,w:27.6,pair:33,group:93.2,axX:590.9,axStart:580.5,axEnd:771.9,y0:954,yTop:682.3,min:0,max:60,ticks:e2Ticks,means:e2Means,lo:e2ErrLow,hi:e2ErrHigh,colors:W4,values:[e2Water1,e2Water2,e2Water3,e2Water4],jitters:[e2Water1Jitter,e2Water2Jitter,e2Water3Jitter,e2Water4Jitter],jit:9.2,cap:4,cats:retrievalCategories,catShift:2,catY:970,xTick:5,tickFont:12.5,brackets:[[614.5,651.4,700.7,691.3,700.7,'ns',633.4,680],[702,739.3,700.7,691.3,700.7,'**',720.4,680]]});
drawBars({name:'retrieval-burst-size-chart',x0:834.3,w:27.8,pair:33.1,group:94,axX:820.6,axStart:809.2,axEnd:1003,y0:954,yTop:680.3,min:0,max:100,ticks:f2Ticks,means:f2Means,lo:f2ErrLow,hi:f2ErrHigh,colors:W4,values:[f2Water1,f2Water2,f2Water3,f2Water4],jitters:[f2Water1Jitter,f2Water2Jitter,f2Water3Jitter,f2Water4Jitter],jit:9.2,cap:4,cats:retrievalCategories,catShift:3.5,catY:970,xTick:5,tickLen:11,tickFont:12.5,brackets:[[841.4,878.2,708,699,708,'ns',859.3,687],[937.8,975.1,708,699,708,'**',955.7,687]]});
drawBars({name:'retrieval-lick-efficiency-chart',x0:1074.8,w:27.8,pair:33.1,group:93.1,axX:1061.6,axStart:1061.6,axEnd:1242,y0:954,yTop:683.7,min:6,max:11,ticks:g2Ticks,tickLabels:g2TickLabels,means:g2Means,lo:g2ErrLow,hi:g2ErrHigh,colors:W4,values:[g2Water1,g2Water2,g2Water3,g2Water4],jitters:[g2Water1Jitter,g2Water2Jitter,g2Water3Jitter,g2Water4Jitter],jit:9,cap:4,cats:retrievalCategories,catShift:4,catY:971,xTick:5,tickLen:7,tickFont:12,brackets:[[1080.5,1122,723.7,715,723.7,'ns',1101.3,703],[1177.9,1220,718.7,715,718.7,'*',1198.6,704]]});

drawBars({name:'ili-60-180-chart',x0:784.5,w:56.1,step:67,axX:756.4,axStart:747.4,axEnd:936.4,y0:1305.7,yTop:1036.3,min:60,max:100,ticks:iTicks,means:iMeans,lo:iErrLow,hi:iErrHigh,colors:[ORANGE,TEAL],values:[iControl,iCta],jitters:[iControlJitter,iCtaJitter],jit:7.8,cap:7,cats:iCategories,catShift:1,catY:1326.7,tickLen:9,tickFont:12.5,brackets:[[812.6,879.6,1066.7,1055.7,1120,'****',845.6,1043]]});
drawBars({name:'ili-180-300-chart',x0:1051,w:55.7,step:67.4,axX:1023.3,axStart:1013.2,axEnd:1202.6,y0:1305.3,yTop:1034.7,min:0,max:20,ticks:jTicks,means:jMeans,lo:jErrLow,hi:jErrHigh,colors:[ORANGE,TEAL],values:[jControl,jCta],jitters:[jControlJitter,jCtaJitter],jit:9.3,cap:7,cats:jCategories,catShift:0.5,catY:1326.7,tickLen:10,tickFont:12.5,brackets:[[1078.8,1146.5,1190,1043.3,1054,'****',1112.2,1031.7]]});

/* ---------- Panel H ---------- */
function drawHist(c){
  const root=document.getElementById('panel-h');
  const g=mk(root,'g',{});
  
  
  const x=v=>131.4+(v-100)*1.2215;
  const y=v=>c.y0-v/0.15*(c.y0-c.yTop);
  c.bins.forEach((v,i)=>{
    const lo=hBinStart[0]+i*hBinWidth[0];
    const b=mk(g,'rect',{x:x(lo)+.3,y:y(v),width:x(lo+hBinWidth[0])-x(lo)-.4,height:c.y0-y(v),fill:c.color});
    
    
  });
  const pts=c.curveX.map((v,i)=>[x(v),y(c.curveY[i])]);
  const cur=mk(g,'path',{d:smoothPath(pts),fill:'none',stroke:'#2c2c2c','stroke-width':1.4});
  
  
  seg(g,83.3,c.y0,620,c.y0,1.8,'#222','x-axis');
  seg(g,83.3,c.yTop-1,83.3,c.y0,1.8,'#222','y-axis');
  hXTicks.forEach(v=>{
    seg(g,x(v),c.y0,x(v),c.y0-5,1.5,'#222','x-tick');
    label(g,x(v),c.y0+17.5,String(v),16,'middle','x-tick-label',26.5);
  });
  hYTicks.forEach((v,i)=>{
    seg(g,83.3,y(v),88.8,y(v),1.7,'#222','y-tick');
    label(g,76.7,y(v)+(v===0?1:0),hYTickLabels[i],16,'end','y-tick-label');
  });
  let a=0;
  const total=c.pie.reduce((s,v)=>s+v,0);
  c.pie.forEach((v,i)=>{
    const a2=a+v/total*Math.PI*2;
    const x1=c.px+c.rx*Math.sin(a),y1=c.py-c.ry*Math.cos(a);
    const x2=c.px+c.rx*Math.sin(a2),y2=c.py-c.ry*Math.cos(a2);
    const d='M'+c.px+' '+c.py+'L'+x1+' '+y1+'A'+c.rx+' '+c.ry+' 0 '+(a2-a>Math.PI?1:0)+' 1 '+x2+' '+y2+'Z';
    const s=mk(g,'path',{d:d,fill:c.pieColors[i]});
    
    
    a=a2;
  });
}
drawHist({name:'cta-histogram',y0:1366,yTop:1062.3,bins:hCtaBins,color:'#1a93ad',curveX:hCtaCurveX,curveY:hCtaCurveY,pie:hCtaPie,px:431,py:1191.7,rx:51,ry:51.7,pieColors:['#1293ae','#b2d4dd','#e3eef2']});
drawHist({name:'control-histogram',y0:1709.3,yTop:1404,bins:hControlBins,color:'#f9a143',curveX:hControlCurveX,curveY:hControlCurveY,pie:hControlPie,px:432.7,py:1569,rx:50.6,ry:51,pieColors:['#f99d3c','#f6d3b0','#f9eadb']});

/* ---------- Panel K ---------- */
(function(){
  const grid=document.getElementById('k-grid');
  const marks=document.getElementById('k-marks');
  const P=(a,b,c)=>[798.2+(a+3)*63.6+(b+4)*-19.15, 1721+(a+3)*-6.33+(b+4)*-20.87+(c+2)*-28.58];
  const GRID='#e2e2e2';
  function gl(p,q,name){seg(grid,p[0],p[1],q[0],q[1],1,GRID,name);}
  kTicksPC1.forEach(v=>{
    gl(P(v,-4,-2),P(v,3,-2),'floor-grid-line');
    gl(P(v,3,-2),P(v,3,2),'back-wall-grid-line');
  });
  kTicksPC2.forEach(v=>{
    gl(P(-3,v,-2),P(4,v,-2),'floor-grid-line');
    gl(P(4,v,-2),P(4,v,2),'side-wall-grid-line');
  });
  kTicksPC3.forEach(v=>{
    gl(P(-3,3,v),P(4,3,v),'back-wall-grid-line');
    gl(P(4,3,v),P(4,-4,v),'side-wall-grid-line');
  });
  const A='#555';
  let p=P(-3,-4,-2),q=P(4,-4,-2);
  seg(grid,p[0],p[1],q[0],q[1],1.2,A,'pc1-axis');
  q=P(-3,3,-2);
  seg(grid,p[0],p[1],q[0],q[1],1.2,A,'pc2-axis');
  const z=P(-3,3,2);
  seg(grid,q[0],q[1],z[0],z[1],1.2,A,'pc3-axis');
  kTicksPC1.forEach(v=>{
    const t=P(v,-4,-2);
    seg(grid,t[0],t[1],t[0]+8,t[1]+8.3,1.1,A,'pc1-tick');
    label(grid,t[0]+11,t[1]+15,String(v),9,'middle','pc1-tick-label',null,{fill:'#555'});
  });
  kTicksPC2.forEach(v=>{
    const t=P(-3,v,-2);
    seg(grid,t[0],t[1],t[0]-13,t[1]+1.7,1.1,A,'pc2-tick');
    label(grid,t[0]-18.5,t[1]+6.7,String(v),9,'middle','pc2-tick-label',null,{fill:'#555'});
  });
  kTicksPC3.forEach(v=>{
    const t=P(-3,3,v);
    seg(grid,t[0],t[1],t[0]-8,t[1]-9,1.1,A,'pc3-tick');
    label(grid,t[0]-12,t[1]-10,String(v),9,'middle','pc3-tick-label',null,{fill:'#555'});
  });
  kControlPC1.forEach((v,i)=>{
    const s=P(v,0,kControlPC3[i]);
    const d=mk(marks,'circle',{cx:s[0],cy:s[1],r:2.3,fill:'#e5a03e'});
    
    
  });
  kCtaPC1.forEach((v,i)=>{
    const s=P(v,0,kCtaPC3[i]);
    const d=mk(marks,'circle',{cx:s[0],cy:s[1],r:2.3,fill:'#14869a'});
    
    
  });
  kMeansPC1.forEach((v,i)=>{
    const s=P(v,0,kMeansPC3[i]);
    const c=mk(marks,'path',{d:'M'+(s[0]-2.8)+' '+(s[1]-2.8)+'l5.6 5.6M'+(s[0]+2.8)+' '+(s[1]-2.8)+'l-5.6 5.6',stroke:'#000','stroke-width':1.7,fill:'none'});
    
    
  });
})();
</script>
</body>
</html>
